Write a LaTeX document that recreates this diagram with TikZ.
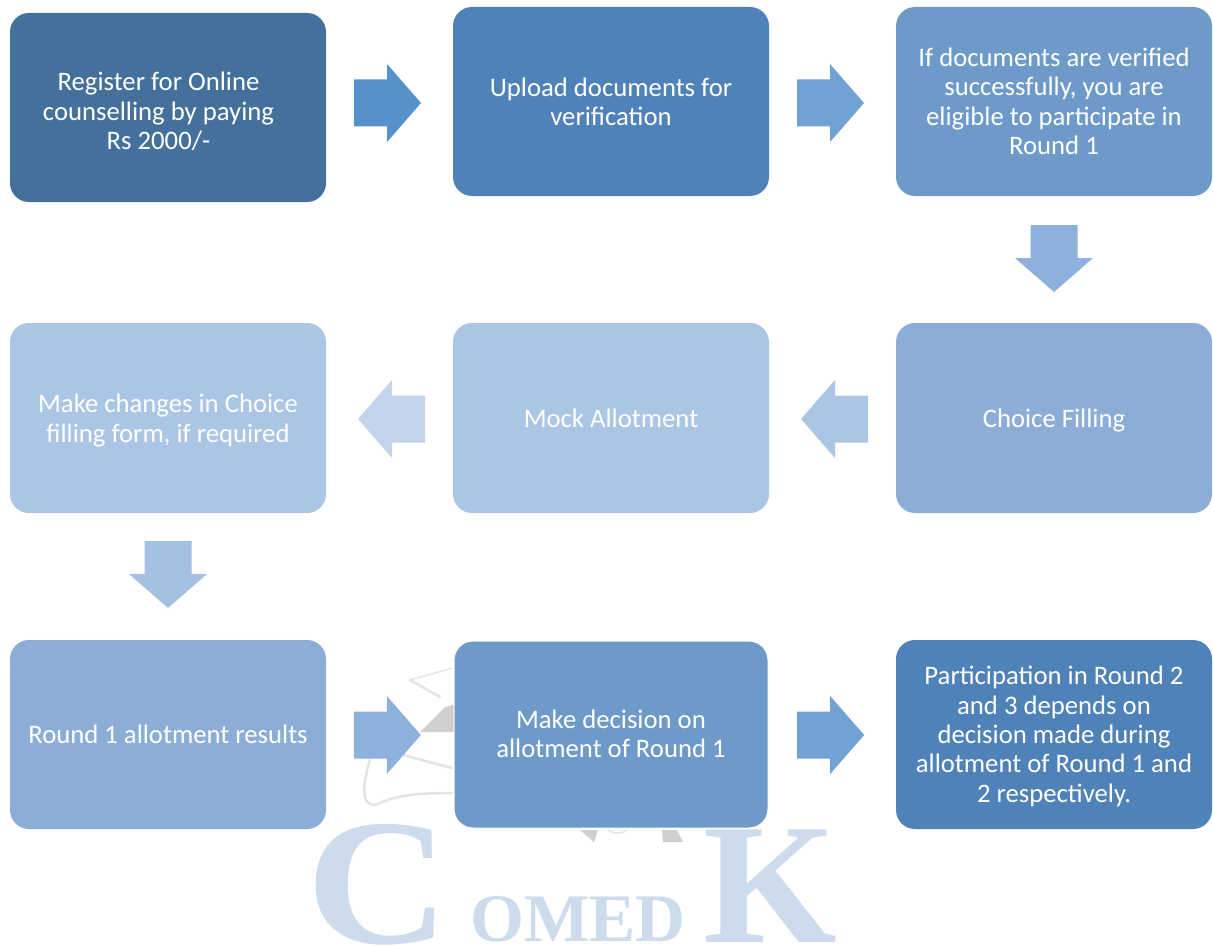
\documentclass[tikz,border=0pt]{standalone}
\usepackage{fontspec}
\setmainfont{Carlito}
\newfontfamily\wmfont{Liberation Serif}
\usetikzlibrary{calc}
\definecolor{cA}{HTML}{44709C}
\definecolor{cB}{HTML}{4F82B8}
\definecolor{cC}{HTML}{6D9AC8}
\definecolor{cD}{HTML}{8CAED6}
\definecolor{cE}{HTML}{ABC6E4}
\definecolor{aA}{HTML}{5592CC}
\definecolor{aB}{HTML}{72A1D4}
\definecolor{aC}{HTML}{8DB0DD}
\definecolor{aD}{HTML}{ABC6E4}
\definecolor{aE}{HTML}{C3D4EA}
\definecolor{aF}{HTML}{A5C0E2}
\definecolor{wmblue}{HTML}{CDDCED}
\definecolor{wmgrey}{HTML}{CFCFCF}
\definecolor{wmfaint}{HTML}{E4E4E4}
\newcommand{\toprule}[1]{\rule{0pt}{#1pt}}
\newcommand{\leftpad}{\rule{19pt}{0pt}}
\tikzset{
  flowbox/.style={rounded corners=19pt, minimum width=316pt, minimum height=189pt, inner sep=0pt,
    text=white, align=center, font=\fontsize{26.7}{29.4}\selectfont},
  blockarrow/.pic={\path[pic actions] (-33.5,-23.5) -- (-0.5,-23.5) -- (-0.5,-39) -- (33.5,0) -- (-0.5,39) -- (-0.5,23.5) -- (-33.5,23.5) -- cycle;},
  wmletter/.style={text=wmblue, anchor=base west, inner sep=0pt},
  wmline/.style={draw=wmfaint, line width=2.5pt, line cap=round, line join=round}
}
\begin{document}
\begin{tikzpicture}[x=1pt,y=-1pt]
\path[use as bounding box,clip] (0,0) rectangle (1213,947);
\fill[white] (0,0) rectangle (1213,947);
% watermark
\node[wmletter,xscale=1.1] (wmC) at (306,943) {\wmfont\bfseries\fontsize{180}{180}\selectfont C};
\node[wmletter] (wmK) at (703,942) {\wmfont\bfseries\fontsize{172}{172}\selectfont K};
\node[wmletter,xscale=1.02] (wmO) at (470,941) {\wmfont\bfseries\fontsize{68}{68}\selectfont OMED};
\draw[wmline,line width=1.5pt] (410,680) -- (452,668);
\draw[wmline] (410,680) -- (440,697);
\fill[wmgrey] (420,732) -- (445,707) -- (456,704) -- (456,732) -- cycle;
\draw[wmline] (403,755) -- (452,768);
\draw[wmline] (370,760) .. controls (365,775) and (363,790) .. (365,797) .. controls (367,805) and (372,806) .. (378,804) .. controls (395,795) and (420,793) .. (452,793);
\fill[wmgrey] (580,830) -- (598,830) -- (594,842) -- cycle;
\fill[wmgrey] (662,830) -- (677,830) -- (683,842) -- (663,842) -- cycle;
\draw[wmline,line width=1.5pt] (608,830) .. controls (613,834) and (622,834) .. (627,830);
% boxes
\node[flowbox,fill=cA] (n1) at (168,107.5) {\toprule{34}Register for Online\leftpad\\counselling by paying\leftpad\\Rs 2000/-\strut\leftpad};
\node[flowbox,fill=cB] (n2) at (611,101.5) {\toprule{28}Upload documents for\\verification\strut};
\node[flowbox,fill=cC] (n3) at (1054,101.5) {\toprule{27}If documents are verified\\successfully, you are\\eligible to participate in\\Round 1\strut};
\node[flowbox,fill=cD,minimum height=190pt] (n4) at (1054,418) {\toprule{28.5}Choice Filling\strut};
\node[flowbox,fill=cE,minimum height=190pt] (n5) at (611,418) {\toprule{28.5}Mock Allotment\strut};
\node[flowbox,fill=cE,minimum height=190pt] (n6) at (168,418) {\toprule{28}Make changes in Choice\\filling form, if required\strut};
\node[flowbox,fill=cD] (n7) at (168,734.5) {\toprule{27}Round 1 allotment results\strut};
\node[flowbox,fill=cC,minimum width=314pt,minimum height=187pt,draw=white,line width=1pt] (n8) at (611,734.5) {\toprule{26}Make decision on\\allotment of Round 1\strut};
\node[flowbox,fill=cB] (n9) at (1054,734.5) {\toprule{27}Participation in Round 2\\and 3 depends on\\decision made during\\allotment of Round 1 and\\2 respectively.\strut};
% block arrows
\coordinate (a1) at ($(n1.east)!.5!(n2.west)+(-2,-1.5)$);
\coordinate (a2) at ($(n2.east)!.5!(n3.west)+(-2,1.5)$);
\coordinate (a3) at ($(n3.south)!.5!(n4.north)+(0,-1)$);
\coordinate (a4) at ($(n4.west)!.5!(n5.east)+(2,1)$);
\coordinate (a5) at ($(n5.west)!.5!(n6.east)+(2,1)$);
\coordinate (a6) at ($(n6.south)!.5!(n7.north)+(0,-2)$);
\coordinate (a7) at ($(n7.east)!.5!(n8.west)+(-2.5,.5)$);
\coordinate (a8) at ($(n8.east)!.5!(n9.west)+(-1.5,.5)$);
\pic[fill=aA] at (a1) {blockarrow};
\pic[fill=aB] at (a2) {blockarrow};
\pic[fill=aC,rotate=-90] at (a3) {blockarrow};
\pic[fill=aD,rotate=180] at (a4) {blockarrow};
\pic[fill=aE,rotate=180] at (a5) {blockarrow};
\pic[fill=aF,rotate=-90] at (a6) {blockarrow};
\pic[fill=aC] at (a7) {blockarrow};
\pic[fill=aB] at (a8) {blockarrow};
\end{tikzpicture}
\end{document}
